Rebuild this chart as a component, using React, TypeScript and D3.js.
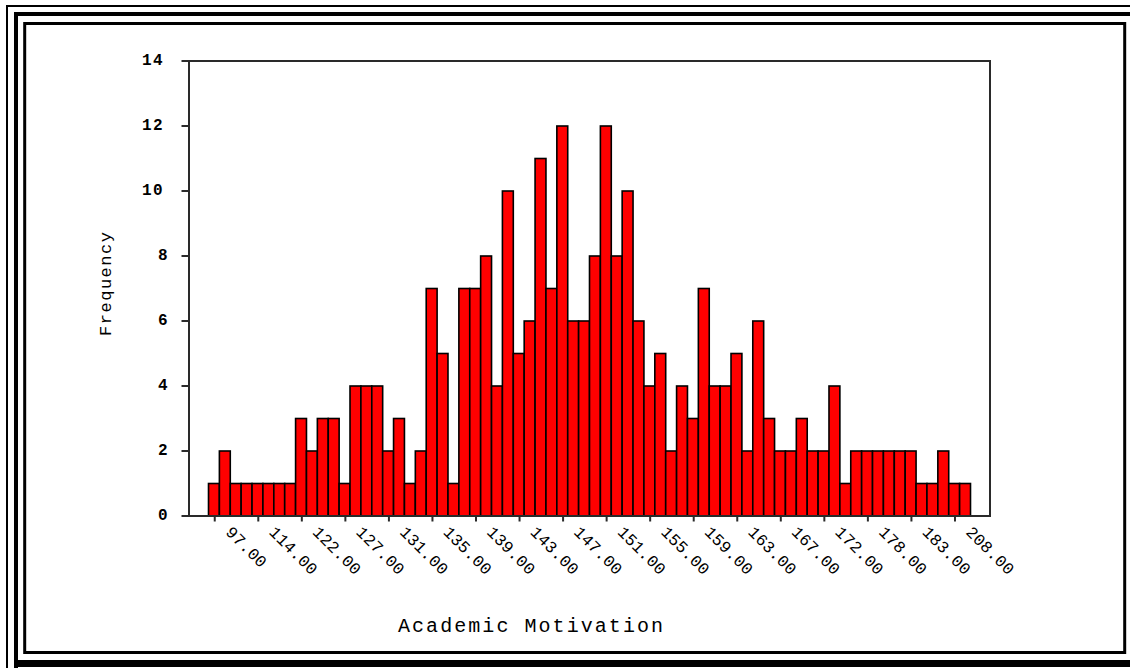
import React from "react";
import * as d3 from "d3";

// Frequency of each Academic Motivation score, left to right
const frequencies = [
  1, 2, 1, 1, 1, 1, 1, 1, 3, 2, 3, 3, 1, 4, 4, 4, 2, 3, 1, 2, 7, 5, 1,
  7, 7, 8, 4, 10, 5, 6, 11, 7, 12, 6, 6, 8, 12, 8, 10, 6, 4, 5, 2, 4, 3, 7, 4,
  4, 5, 2, 6, 3, 2, 2, 3, 2, 2, 4, 1, 2, 2, 2, 2, 2, 2, 1, 1, 2, 1, 1,
];

// Every fourth score is labelled on the category axis
const tickLabels = [
  "97.00", "114.00", "122.00", "127.00", "131.00", "135.00", "139.00", "143.00",
  "147.00", "151.00", "155.00", "159.00", "163.00", "167.00", "172.00", "178.00",
  "183.00", "208.00",
];
const tickEvery = 4;

const yTicks = [0, 2, 4, 6, 8, 10, 12, 14];

const W = 1130;
const H = 668;
const plot = { left: 189, right: 990, top: 61, bottom: 516 };
const bandInset = 19.5;
const FONT = "'Courier New', 'Liberation Mono', monospace";

export default function App() {
  const x = d3
    .scaleBand<number>()
    .domain(frequencies.map((_, i) => i))
    .range([plot.left + bandInset, plot.right - bandInset])
    .padding(0);
  const y = d3.scaleLinear().domain([0, 14]).range([plot.bottom, plot.top]);
  const bw = x.bandwidth();

  const ticks = tickLabels.map((label, k) => {
    const idx = k * tickEvery;
    return { label, cx: (x(idx) as number) + bw / 2 + 0.8 };
  });

  return (
    <svg
      width={W}
      height={H}
      viewBox={`0 0 ${W} ${H}`}
      style={{ position: "absolute", left: 0, top: 0, background: "#fff" }}
    >
      <rect x={0} y={0} width={W} height={H} fill="#fff" />

      {/* triple page border */}
      <g fill="none" stroke="#000">
        <path d={`M7,${H + 5} V6 H${W + 5}`} strokeWidth={2} />
        <path d={`M16,${H + 5} V14 H${W + 5}`} strokeWidth={4} />
        <rect x={24.7} y={23.5} width={1124.7 - 24.7} height={652.5 - 23.5} strokeWidth={3} />
      </g>
      <rect x={14} y={660} width={W} height={7} fill="#000" />

      {/* bars */}
      <g>
        {frequencies.map((f, i) => (
          <rect
            key={i}
            x={x(i) as number}
            y={y(f)}
            width={bw}
            height={y(0) - y(f)}
            fill="#ff0000"
            stroke="#000"
            strokeWidth={1.6}
          />
        ))}
      </g>

      {/* plot frame */}
      <rect
        x={plot.left}
        y={plot.top}
        width={plot.right - plot.left}
        height={plot.bottom - plot.top}
        fill="none"
        stroke="#2a2a2a"
        strokeWidth={2}
      />

      {/* y axis ticks and labels */}
      <g>
        {yTicks.map((t) => {
          const s = String(t);
          const two = s.length > 1;
          return (
            <g key={t}>
              <line x1={plot.left - 7.5} x2={plot.left} y1={y(t)} y2={y(t)} stroke="#2a2a2a" strokeWidth={2} />
              <text
                x={two ? plot.left - 47 : plot.left - 21.5}
                y={y(t) + 4}
                textAnchor={two ? "start" : "end"}
                textLength={two ? 20.5 : undefined}
                lengthAdjust="spacing"
                fontFamily={FONT}
                fontWeight="bold"
                fontSize={16}
                fill="#000"
              >
                {s}
              </text>
            </g>
          );
        })}
      </g>

      {/* x axis ticks and rotated labels */}
      <g>
        {ticks.map((t) => (
          <g key={t.label}>
            <line x1={t.cx} x2={t.cx} y1={plot.bottom} y2={plot.bottom + 5.5} stroke="#2a2a2a" strokeWidth={2} />
            <text
              transform={`translate(${t.cx + 10},${533}) rotate(45)`}
              fontFamily={FONT}
              fontSize={16.5}
              letterSpacing={0.2}
              fill="#000"
            >
              {t.label}
            </text>
          </g>
        ))}
      </g>

      {/* axis titles */}
      <text
        x={530.5}
        y={632}
        textAnchor="middle"
        textLength={265}
        lengthAdjust="spacing"
        fontFamily={FONT}
        fontSize={20}
        fill="#000"
      >
        Academic Motivation
      </text>
      <text
        transform={`translate(111,284) rotate(-90)`}
        textAnchor="middle"
        textLength={104}
        lengthAdjust="spacing"
        fontFamily={FONT}
        fontSize={17}
        fill="#000"
      >
        Frequency
      </text>
    </svg>
  );
}
